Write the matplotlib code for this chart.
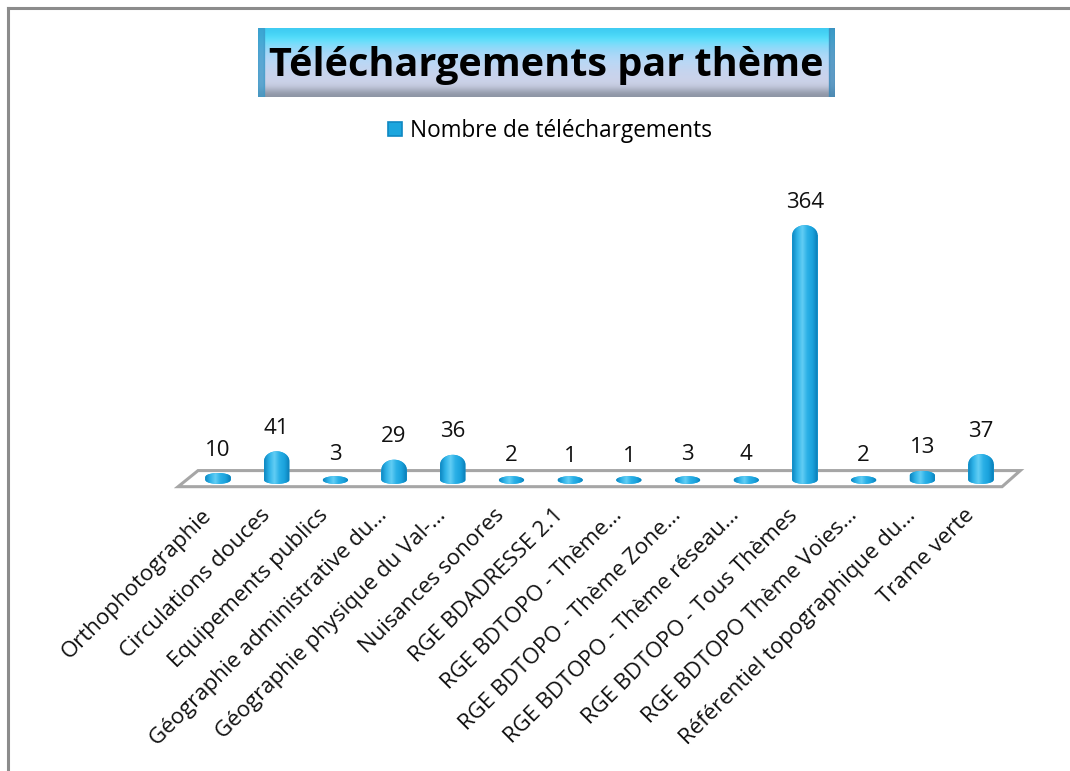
import numpy as np
import matplotlib
matplotlib.use("Agg")
import matplotlib.pyplot as plt
from matplotlib.patches import Polygon, Patch, Rectangle
from matplotlib.colors import LinearSegmentedColormap

plt.rcParams['font.family'] = ['Open Sans', 'DejaVu Sans']

# ---- data -------------------------------------------------------------
themes = [
    "Orthophotographie", "Circulations douces", "Equipements publics",
    "Géographie administrative du…", "Géographie physique du Val-…",
    "Nuisances sonores", "RGE BDADRESSE 2.1", "RGE BDTOPO - Thème…",
    "RGE BDTOPO - Thème Zone…", "RGE BDTOPO - Thème réseau…",
    "RGE BDTOPO - Tous Thèmes", "RGE BDTOPO Thème Voies…",
    "Référentiel topographique du…", "Trame verte",
]
downloads = [10, 41, 3, 29, 36, 2, 1, 1, 3, 4, 364, 2, 13, 37]
series_name = "Nombre de téléchargements"
title = "Téléchargements par thème"

BLUE = "#1ca6de"
DARK = "#0f88c2"
FLOOR = "#a6a6a6"
cyl = LinearSegmentedColormap.from_list(
    "cyl", ["#0d86c0", "#2fb3e8", "#62cdf4", "#2ab0e6", "#1aa2dc", "#0b7cb6"])

fig = plt.figure(figsize=(10.7, 7.71), dpi=100)

# outer chart frame (top and left edges only visible)
fig.add_artist(plt.Line2D([0.0075, 1.0], [0.9895, 0.9895], color="#8c8c8c", lw=2.2))
fig.add_artist(plt.Line2D([0.0075, 0.0075], [0.0, 0.9895], color="#8c8c8c", lw=2.2))

ax = fig.add_axes([174 / 1070, 0.3547, 851 / 1070, 0.3859])
ax.axis("off")

# floor slab in perspective
n = len(themes)
ax.add_patch(Polygon([(-0.68, -9.5), (-0.34, 13.5), (n - 1 + 0.67, 13.5), (n - 1 + 0.36, -9.5)],
                     closed=True, facecolor="white", edgecolor=FLOOR, lw=2.2, zorder=1))

# cylinders with rounded tops: bar body + dome, shaded with a gradient
x = np.arange(n)
w = 0.43
base_h = 5.5
dome = 14.0
domes = [min(dome, max(v / 2, base_h)) for v in downloads]
tops = [max(v - d, 0) for v, d in zip(downloads, domes)]
bars = ax.bar(x, tops, width=w, color=BLUE, zorder=3, linewidth=0)
grad = np.linspace(0, 1, 64)[None, :]
a_top = np.linspace(np.pi, 0, 40)
a_bot = np.linspace(0, -np.pi, 40)
for rect, d, v in zip(bars, domes, downloads):
    x0, bw, t = rect.get_x(), rect.get_width(), rect.get_height()
    xc, r = x0 + bw / 2, bw / 2
    outline = np.vstack([
        [[x0, 0], [x0, t]],
        np.column_stack([xc + r * np.cos(a_top), t + d * np.sin(a_top)]),
        [[x0 + bw, t], [x0 + bw, 0]],
        np.column_stack([xc + r * np.cos(a_bot), base_h * np.sin(a_bot)]),
    ])
    shape = Polygon(outline, closed=True, facecolor=BLUE, lw=0, zorder=3)
    ax.add_patch(shape)
    im = ax.imshow(grad, cmap=cyl, aspect="auto", extent=[x0, x0 + bw, -base_h, t + d],
                   zorder=4, interpolation="bilinear")
    im.set_clip_path(shape)
    ax.annotate(str(v), (xc, v), xytext=(0, 9), textcoords="offset points",
                ha="center", va="bottom", fontsize=16, color="#111111")
ax.set_xlim(-0.75, len(themes) - 0.25)
ax.set_ylim(-25, 400)

# category labels, rotated under the floor
for xi, lab in zip(x, themes):
    ax.annotate(lab, (xi, -9.5), xytext=(-12.5, -13), textcoords="offset points",
                ha="right", va="top", rotation=45, rotation_mode="anchor",
                fontsize=16, color="#111111", annotation_clip=False)

# legend
fig.legend(handles=[Patch(facecolor=BLUE, edgecolor=DARK, lw=1.2)], labels=[series_name],
           loc="center", bbox_to_anchor=(0.514, 0.830), frameon=False, fontsize=16.3,
           handlelength=0.6, handleheight=0.6, handletextpad=0.35)

# title in a bevelled blue box
tax = fig.add_axes([258 / 1070, 1 - 97 / 771, 577 / 1070, 69 / 771])
tgrad = np.array([
    [0.25, 0.80, 0.95], [0.33, 0.88, 0.99], [0.52, 0.86, 0.98],
    [0.64, 0.84, 0.97], [0.71, 0.85, 0.97], [0.75, 0.84, 0.95],
    [0.78, 0.83, 0.93], [0.80, 0.83, 0.92], [0.78, 0.80, 0.88],
    [0.55, 0.58, 0.64],
])
tax.imshow(tgrad[:, None, :], aspect="auto", extent=[0, 1, 0, 1], interpolation="bicubic")
tax.add_patch(Rectangle((0, 0), 0.01, 1, color="#3a98c8", alpha=0.75))
tax.add_patch(Rectangle((0.99, 0), 0.01, 1, color="#3a88b8", alpha=0.75))
tax.set_xlim(0, 1)
tax.set_ylim(0, 1)
tax.axis("off")
tax.text(0.5, 0.46, title, ha="center", va="center", fontsize=28.5, fontweight="bold",
         color="black")

fig.savefig("out.png", dpi=100)
